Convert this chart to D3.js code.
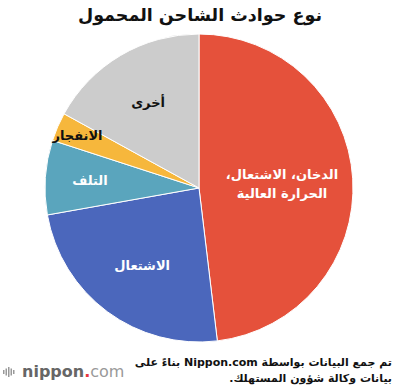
<!DOCTYPE html>
<html>
<head>
<meta charset="utf-8">
<script src="https://cdn.jsdelivr.net/npm/d3@7"></script>
<style>
  body { margin: 0; background: #fff; }
  svg { display: block; }
  text { font-family: "DejaVu Sans", sans-serif; }
</style>
</head>
<body>
<div id="chart"></div>
<script>
// data ---------------------------------------------------------------
const categories = [
    ['الدخان، الاشتعال،', 'الحرارة العالية'],
    ['الاشتعال'],
    ['التلف'],
    ['الانفجار'],
    ['أخرى']
];
const values = [48.1, 24.1, 7.8, 3.0, 17.0];
const colors = ['#e5513b', '#4b67bc', '#5aa5bd', '#f6b73c', '#cccccc'];
const labelColors = ['#fff', '#fff', '#fff', '#111', '#111'];
const title = 'نوع حوادث الشاحن المحمول';
const note = ['تم جمع البيانات بواسطة Nippon.com بناءً على', 'بيانات وكالة شؤون المستهلك.'];

// chart init ---------------------------------------------------------
const width = 400, height = 387;
const cx = 199, cy = 188, radius = 154;

const svg = d3.select('#chart')
    .append('svg')
    .attr('width', width)
    .attr('height', height);

svg.append('text')
    .attr('x', 200)
    .attr('y', 21)
    .attr('direction', 'rtl')
    .attr('text-anchor', 'middle')
    .attr('font-size', 17.5)
    .attr('font-weight', 'bold')
    .attr('fill', '#111')
    .text(title);

const g = svg.append('g')
    .attr('transform', 'translate(' + cx + ',' + cy + ')');

const pie = d3.pie().sort(null).value(d => d);
const arcs = pie(values);

const arc = d3.arc().innerRadius(0).outerRadius(radius);

g.selectAll('.slice')
    .data(arcs)
    .enter()
    .append('path')
    .attr('class', 'slice')
    .attr('d', arc)
    .attr('fill', (d, i) => colors[i])
    .attr('stroke', '#fff')
    .attr('stroke-width', 1);

// label distance from centre, as a share of the radius
const labelPos = [0.54, 0.62, 0.71, 0.86, 0.65];

const labels = g.selectAll('.label')
    .data(arcs)
    .enter()
    .append('text')
    .attr('class', 'label')
    .attr('transform', (d, i) => {
        const r = radius * labelPos[i];
        const a = (d.startAngle + d.endAngle) / 2;
        return 'translate(' + (r * Math.sin(a)) + ',' + (-r * Math.cos(a)) + ')';
    })
    .attr('direction', 'rtl')
    .attr('text-anchor', 'middle')
    .attr('font-size', 13)
    .attr('font-weight', 'bold')
    .attr('fill', (d, i) => labelColors[i]);

labels.each(function(d, i) {
    const lines = categories[i];
    const t = d3.select(this);
    lines.forEach((line, j) => {
        t.append('tspan')
            .attr('x', 0)
            .attr('y', (j - (lines.length - 1) / 2) * 19 + 5)
            .text(line);
    });
});

// footnote
const foot = svg.append('text')
    .attr('direction', 'rtl')
    .attr('text-anchor', 'start')
    .attr('font-size', 11)
    .attr('font-weight', 'bold')
    .attr('fill', '#111');
note.forEach((line, j) => {
    foot.append('tspan')
        .attr('x', 392)
        .attr('y', 366 + j * 16)
        .text(line);
});

// logo
const logo = svg.append('g').attr('transform', 'translate(3,372)');
[[0, 4], [2.5, 7], [5, 10], [7.5, 7], [10, 4]].forEach(b => {
    logo.append('rect')
        .attr('x', b[0])
        .attr('y', -b[1] / 2)
        .attr('width', 1.5)
        .attr('height', b[1])
        .attr('fill', '#999');
});
const logoText = logo.append('text')
    .attr('x', 19)
    .attr('y', 5)
    .attr('font-size', 16)
    .attr('font-family', 'Roboto, sans-serif')
    .attr('fill', '#666');
logoText.append('tspan').attr('font-weight', 'bold').text('nippon');
logoText.append('tspan').attr('fill', '#e8383d').attr('font-weight', 'bold').text('.');
logoText.append('tspan').attr('fill', '#999').text('com');
</script>
</body>
</html>
